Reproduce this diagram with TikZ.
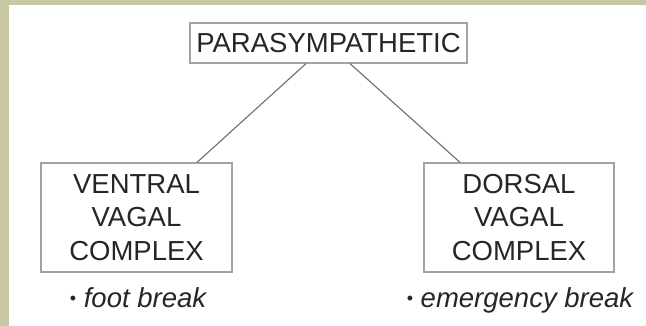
\documentclass[tikz,border=0pt]{standalone}
\usepackage{fontspec}
\setmainfont{Liberation Sans}
\usetikzlibrary{calc}
\definecolor{strip}{HTML}{C8C8A4}
\definecolor{ink}{HTML}{262626}
\definecolor{boxline}{HTML}{A3A3A3}
\definecolor{conn}{HTML}{6E6E6E}
\tikzset{
  box/.style={draw=boxline, line width=1.2pt, inner sep=0pt, align=center, text=ink,
    font=\fontsize{27.5}{33.5}\selectfont},
  link/.style={draw=conn, line width=1.1pt},
  note/.style={inner sep=0pt, anchor=base, text=ink, font=\fontsize{27.5}{30}\selectfont\itshape}
}
\begin{document}
\begin{tikzpicture}[x=1pt,y=-1pt]
\useasboundingbox (0,0) rectangle (646,326);
\fill[white] (0,0) rectangle (646,326);
\fill[strip] (0,0) rectangle (646,5);
\fill[strip] (0,0) rectangle (9,326);
\node[box, minimum width=277pt, minimum height=40pt] (top) at (328.5,43) {PARASYMPATHETIC};
\node[box, minimum width=191pt, minimum height=109pt] (vvc) at (136.5,217.5) {VENTRAL\\VAGAL\\COMPLEX};
\node[box, minimum width=190pt, minimum height=109pt] (dvc) at (519,217.5) {DORSAL\\VAGAL\\COMPLEX};
\draw[link] ($(top.south)+(-22.5,0)$) -- ($(vvc.north)+(60.5,0)$);
\draw[link] ($(top.south)+(21.5,0)$) -- ($(dvc.north)+(-59,0)$);
\node[note] (fb) at (138,307) {{\upshape\fontsize{18}{20}\selectfont\raisebox{2pt}{•}}\ foot break};
\node[note] (eb) at (520,307) {{\upshape\fontsize{18}{20}\selectfont\raisebox{2pt}{•}}\ emergency break};
\end{tikzpicture}
\end{document}
